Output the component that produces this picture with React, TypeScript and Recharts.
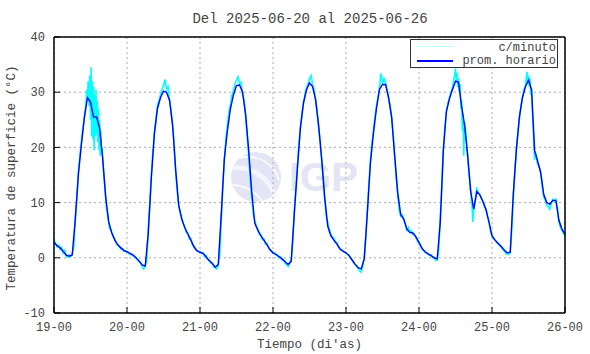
import { LineChart, Line, XAxis, YAxis, CartesianGrid } from "recharts";

// ejes
const dayTicks = [0, 24, 48, 72, 96, 120, 144, 168];
const dayLabels = ["19-00", "20-00", "21-00", "22-00", "23-00", "24-00", "25-00", "26-00"];
const tempTicks = [-10, 0, 10, 20, 30, 40];

// promedio horario (h = 0 -> 19-00)
const hourly19 = [2.8, 2.2, 1.8, 1.2, 0.5, 0.3, 0.5, 7.0, 15.0, 20.5, 25.5, 29.0, 28.2, 25.5, 25.5, 23.5, 18.0, 11.0, 6.5, 4.5, 3.2, 2.3, 1.8, 1.3];
const hourly20 = [1.1, 0.8, 0.5, 0.0, -0.6, -1.3, -1.5, 4.5, 14.5, 22.5, 27.0, 29.0, 30.2, 30.0, 28.5, 24.0, 16.0, 9.5, 7.0, 5.5, 4.3, 3.2, 2.0, 1.3];
const hourly21 = [1.0, 0.8, 0.2, -0.5, -1.0, -1.7, -1.2, 8.0, 18.0, 23.0, 27.0, 29.5, 31.2, 31.3, 30.0, 26.0, 19.5, 12.0, 6.3, 5.0, 4.0, 3.2, 2.4, 1.5];
const hourly22 = [0.9, 0.6, 0.2, -0.2, -0.7, -1.2, -0.6, 8.0, 16.0, 23.5, 28.0, 30.4, 31.7, 31.0, 28.7, 24.0, 18.0, 11.0, 5.7, 4.0, 3.2, 2.5, 1.6, 1.2];
const hourly23 = [0.9, 0.4, -0.4, -1.2, -1.8, -2.0, -0.2, 8.0, 17.0, 22.5, 27.0, 30.5, 31.4, 31.4, 29.0, 25.5, 18.5, 11.8, 7.8, 7.0, 5.2, 4.6, 4.5, 3.8];
const hourly24 = [2.8, 1.7, 1.1, 0.7, 0.4, 0.0, -0.2, 6.5, 19.5, 26.5, 28.8, 30.5, 32.0, 31.8, 27.5, 24.0, 18.5, 12.0, 8.8, 12.0, 11.4, 10.2, 8.8, 6.5];
const hourly25 = [4.0, 3.2, 2.6, 2.1, 1.4, 0.9, 1.0, 11.5, 19.5, 25.5, 29.0, 31.0, 32.2, 30.5, 19.5, 17.5, 15.5, 11.5, 10.0, 9.7, 10.4, 10.4, 6.8, 5.2];
const hourlyEnd = [4.3];

// datos por minuto (muestreados), [hora, valor]
const minute19 = [[0, 3.4], [0.5, 2.6], [1, 2.0], [1.5, 2.3], [2, 1.5], [2.5, 1.9], [3, 0.8], [3.5, 1.3], [4, 0.3], [4.5, 0.1], [5, 0.5], [5.5, 0.2], [6, 0.8], [6.5, 2.0], [7, 7], [7.5, 10.5], [8, 15.5], [8.5, 18.5], [9, 21], [9.5, 23.5], [10, 25.5], [10.5, 28], [10.75, 30.5], [11, 29], [11.25, 32], [11.5, 27.5], [11.75, 33], [12, 25], [12.2, 34.5], [12.4, 22], [12.6, 32], [12.8, 21.5], [13, 31], [13.2, 19.5], [13.4, 29.5], [13.6, 22], [13.8, 30.5], [14, 22.5], [14.2, 28.5], [14.4, 21], [14.6, 27], [14.8, 19.5], [15, 25], [15.2, 18.5], [15.4, 23], [15.6, 19], [15.8, 20], [16.25, 16], [16.75, 12.5], [17.25, 9], [17.75, 7.2], [18.25, 5.3], [18.75, 5.0], [19.5, 3.8], [20, 3.4], [20.5, 2.6], [21, 2.4], [21.5, 2.0], [22, 1.6], [22.5, 1.7], [23, 1.2], [23.5, 1.3]];
const minute20 = [[24, 1.0], [24.5, 0.9], [25, 0.6], [25.5, 0.7], [26, 0.3], [26.5, 0.2], [27, -0.2], [27.5, -0.3], [28, -0.8], [28.5, -0.9], [29, -1.6], [29.5, -2.0], [30, -1.4], [30.5, -0.5], [31, 5.5], [31.5, 10], [32, 15], [32.5, 19], [33, 22.5], [33.5, 25], [34, 27.5], [34.5, 28.5], [35, 29.5], [35.5, 30.5], [36, 31.2], [36.5, 32.3], [37, 30.5], [37.5, 31], [38, 28.5], [38.5, 26.5], [39, 24], [39.5, 20.5], [40, 15.5], [40.5, 12], [41, 9.5], [41.5, 8.2], [42, 7.2], [42.5, 6.2], [43, 5.5], [43.5, 4.6], [44, 4.5], [44.5, 3.4], [45, 3.5], [45.5, 2.4], [46, 2.2], [46.5, 1.6], [47, 1.2], [47.5, 1.2]];
const minute21 = [[48, 1.1], [48.5, 0.8], [49, 0.9], [49.5, 0.3], [50, 0.4], [50.5, -0.3], [51, -0.4], [51.5, -1.0], [52, -1.0], [52.5, -1.6], [53, -1.8], [53.5, -2.0], [54, -1.4], [54.5, 0.5], [55, 7], [55.5, 13], [56, 17.5], [56.5, 21.5], [57, 24], [57.5, 26.5], [58, 27.8], [58.5, 29.5], [59, 30.3], [59.5, 31.5], [60, 32.2], [60.5, 32.8], [61, 31.5], [61.5, 31.8], [62, 29.5], [62.5, 28.5], [63, 25.5], [63.5, 22], [64, 18.5], [64.5, 14], [65, 11], [65.5, 8], [66, 6.8], [66.5, 5.8], [67, 5.2], [67.5, 4.3], [68, 4.2], [68.5, 3.3], [69, 3.4], [69.5, 2.5], [70, 2.6], [70.5, 1.9], [71, 1.4], [71.5, 1.2]];
const minute22 = [[72, 0.8], [72.5, 0.9], [73, 0.5], [73.5, 0.5], [74, 0.0], [74.5, 0.2], [75, -0.5], [75.5, -0.4], [76, -1.0], [76.5, -1.3], [77, -1.6], [77.5, -1.0], [78, -0.2], [78.5, 3], [79, 8.5], [79.5, 12.5], [80, 16.5], [80.5, 20.5], [81, 23.5], [81.5, 26], [82, 28], [82.5, 29.5], [83, 30.8], [83.5, 31.5], [84, 32.5], [84.5, 33.0], [85, 31.5], [85.5, 30.5], [86, 28.5], [86.5, 26.5], [87, 23.5], [87.5, 21], [88, 17.5], [88.5, 14], [89, 10.5], [89.5, 7.5], [90, 6.5], [90.5, 5.2], [91, 4.3], [91.5, 3.8], [92, 3.6], [92.5, 2.8], [93, 2.8], [93.5, 2.0], [94, 1.7], [94.5, 1.4], [95, 1.3], [95.5, 1.0]];
const minute23 = [[96, 0.9], [96.5, 0.6], [97, 0.5], [97.5, 0.0], [98, -0.3], [98.5, -0.8], [99, -1.2], [99.5, -1.4], [100, -2.0], [100.5, -2.4], [101, -2.6], [101.5, -1.5], [102, 0.2], [102.5, 3.5], [103, 8.5], [103.5, 13], [104, 17.5], [104.5, 20.5], [105, 23], [105.5, 25.5], [106, 27.5], [106.5, 29], [107, 30.8], [107.5, 33.4], [108, 31.5], [108.5, 32.5], [109, 31.8], [109.5, 30.5], [110, 29], [110.5, 27.5], [111, 25.5], [111.5, 22.5], [112, 18.5], [112.5, 14.5], [113, 11.5], [113.5, 8.5], [114, 7.5], [114.5, 7.8], [115, 6.8], [115.5, 6.2], [116, 5.0], [116.5, 5.5], [117, 4.6], [117.5, 4.9], [118, 4.2], [118.5, 4.3], [119, 3.6], [119.5, 3.0]];
const minute24 = [[120, 2.5], [120.5, 2.2], [121, 1.6], [121.5, 1.3], [122, 1.0], [122.5, 0.8], [123, 0.7], [123.5, 0.4], [124, 0.5], [124.5, 0.0], [125, 0.1], [125.5, -0.5], [126, -0.4], [126.5, 1.5], [127, 7.5], [127.5, 13], [128, 19.5], [128.5, 23.5], [129, 26.5], [129.5, 28], [130, 29], [130.5, 30], [131, 30.8], [131.5, 32.5], [131.75, 33.2], [132, 34.3], [132.25, 32], [132.5, 33.5], [132.75, 31], [133, 32.5], [133.25, 30], [133.5, 31.5], [133.75, 27], [134, 28.5], [134.25, 23], [134.5, 26], [134.7, 18.5], [135, 24.5], [135.5, 22], [136, 18.5], [136.5, 15], [137, 12], [137.5, 9], [137.7, 6.5], [138, 8.5], [138.5, 10.5], [139, 12.5], [139.5, 11.8], [140, 11.5], [140.5, 10.8], [141, 10.3], [141.5, 9.2], [142, 8.8], [142.5, 7.5], [143, 6.5], [143.5, 4.8]];
const minute25 = [[144, 4.0], [144.5, 3.4], [145, 3.3], [145.5, 2.8], [146, 2.7], [146.5, 2.2], [147, 2.0], [147.5, 1.5], [148, 1.3], [148.5, 0.8], [149, 0.7], [149.5, 0.6], [150, 1.0], [150.5, 5], [151, 11], [151.5, 15.5], [152, 19.5], [152.5, 22.5], [153, 25], [153.5, 27.5], [154, 29], [154.5, 30.5], [155, 31.2], [155.25, 32.5], [155.5, 33.7], [155.75, 31.5], [156, 33], [156.25, 31], [156.5, 32.5], [156.75, 29.5], [157, 30.5], [157.25, 27], [157.5, 24.5], [157.75, 20.5], [158, 17.8], [158.5, 18.5], [159, 17], [159.5, 16.5], [160, 15.3], [160.5, 13], [161, 11], [161.5, 10.5], [162, 9.5], [162.5, 9.2], [163, 8.8], [163.5, 10], [164, 10.6], [164.5, 10.2], [165, 10.6], [165.5, 9], [166, 6.5], [166.5, 5.5], [167, 5.0], [167.5, 4.4], [168, 4.0]];

const hourlyData = [...hourly19, ...hourly20, ...hourly21, ...hourly22, ...hourly23, ...hourly24, ...hourly25, ...hourlyEnd].map((v, i) => ({ h: i, v }));
const minuteData = [...minute19, ...minute20, ...minute21, ...minute22, ...minute23, ...minute24, ...minute25].map(([h, v]) => ({ h, v }));

const FONT = "'Liberation Mono', 'DejaVu Sans Mono', monospace";
const tickStyle = { fontFamily: FONT, fontSize: 12, fill: "#444" };
const frame = { stroke: "#000", strokeWidth: 1.5 };

const Watermark = () => (
  <svg width={590} height={354} style={{ position: "absolute", left: 0, top: 0 }}>
    <circle cx={256} cy={177} r={25} fill="#e3e4f5" />
    <path d="M 233 168 A 40 40 0 0 1 275 196" stroke="#f2f5fd" strokeWidth={5} fill="none" />
    <path d="M 240 158 A 32 32 0 0 1 279 180" stroke="#ffffff" strokeWidth={1.5} fill="none" />
    <path d="M 258 153 A 16 16 0 0 1 280 170" stroke="#ffffff" strokeWidth={1.5} fill="none" />
    <path d="M 233 185 A 38 38 0 0 1 262 201" stroke="#ffffff" strokeWidth={1.5} fill="none" />
    <text x={289} y={191} fontFamily="'Liberation Sans', Arial, sans-serif" fontWeight="bold" fontSize={40} fill="#e4e4f5">IGP</text>
  </svg>
);

export default function App() {
  return (
    <div style={{ position: "absolute", left: 0, top: 0, width: 590, height: 354, background: "#fff", fontFamily: FONT, color: "#444" }}>
      <Watermark />
      <LineChart width={590} height={354} data={hourlyData} margin={{ top: 36, right: 24, bottom: 0, left: 0 }}>
        <CartesianGrid stroke="#aaa" strokeDasharray="2 3" horizontalValues={tempTicks} verticalValues={dayTicks} />
        <XAxis
          dataKey="h"
          type="number"
          domain={[0, 168]}
          ticks={dayTicks}
          interval={0}
          tickFormatter={(t) => dayLabels[dayTicks.indexOf(t)]}
          tickSize={-6}
          tickMargin={15}
          height={41}
          axisLine={frame}
          tickLine={{ stroke: "#000" }}
          tick={tickStyle}
        />
        <XAxis xAxisId="top" orientation="top" dataKey="h" type="number" domain={[0, 168]} ticks={dayTicks} interval={0} tick={false} tickSize={-6} height={1} axisLine={frame} tickLine={{ stroke: "#000" }} />
        <YAxis
          type="number"
          domain={[-10, 40]}
          ticks={tempTicks}
          interval={0}
          tickSize={-6}
          tickMargin={15}
          width={54}
          axisLine={frame}
          tickLine={{ stroke: "#000" }}
          tick={tickStyle}
        />
        <YAxis yAxisId="right" orientation="right" type="number" domain={[-10, 40]} ticks={tempTicks} interval={0} tick={false} tickSize={-6} width={1} axisLine={frame} tickLine={{ stroke: "#000" }} />
        <Line data={minuteData} dataKey="v" type="linear" stroke="#00ffff" strokeWidth={1.6} dot={false} isAnimationActive={false} />
        <Line dataKey="v" type="linear" stroke="#0000ff" strokeWidth={1.4} dot={false} isAnimationActive={false} />
      </LineChart>
      <div style={{ position: "absolute", left: 0, width: 620, top: 10, textAlign: "center", fontSize: 14, lineHeight: "18px" }}>
        Del 2025-06-20 al 2025-06-26
      </div>
      <div style={{ position: "absolute", left: 54, width: 511, top: 337, textAlign: "center", fontSize: 12.5, lineHeight: "16px" }}>
        Tiempo (di'as)
      </div>
      <div style={{ position: "absolute", left: 12, top: 178, width: 0, height: 0 }}>
        <div style={{ position: "absolute", left: -150, top: -8, width: 300, textAlign: "center", fontSize: 12.5, lineHeight: "16px", transform: "rotate(-90deg)" }}>
          Temperatura de superficie (°C)
        </div>
      </div>
      <div style={{ position: "absolute", left: 410, top: 39, width: 146, height: 27, border: "1px solid #333", background: "#fff", fontSize: 12, lineHeight: "14px" }}>
        <div style={{ position: "absolute", left: 6, top: 6, width: 36, height: 1, background: "#b8ffff" }} />
        <div style={{ position: "absolute", left: 6, top: 20, width: 36, height: 1.5, background: "#0000ff" }} />
        <div style={{ position: "absolute", right: 1, top: 1, textAlign: "right" }}>c/minuto</div>
        <div style={{ position: "absolute", right: 1, top: 14, textAlign: "right" }}>prom. horario</div>
      </div>
    </div>
  );
}
